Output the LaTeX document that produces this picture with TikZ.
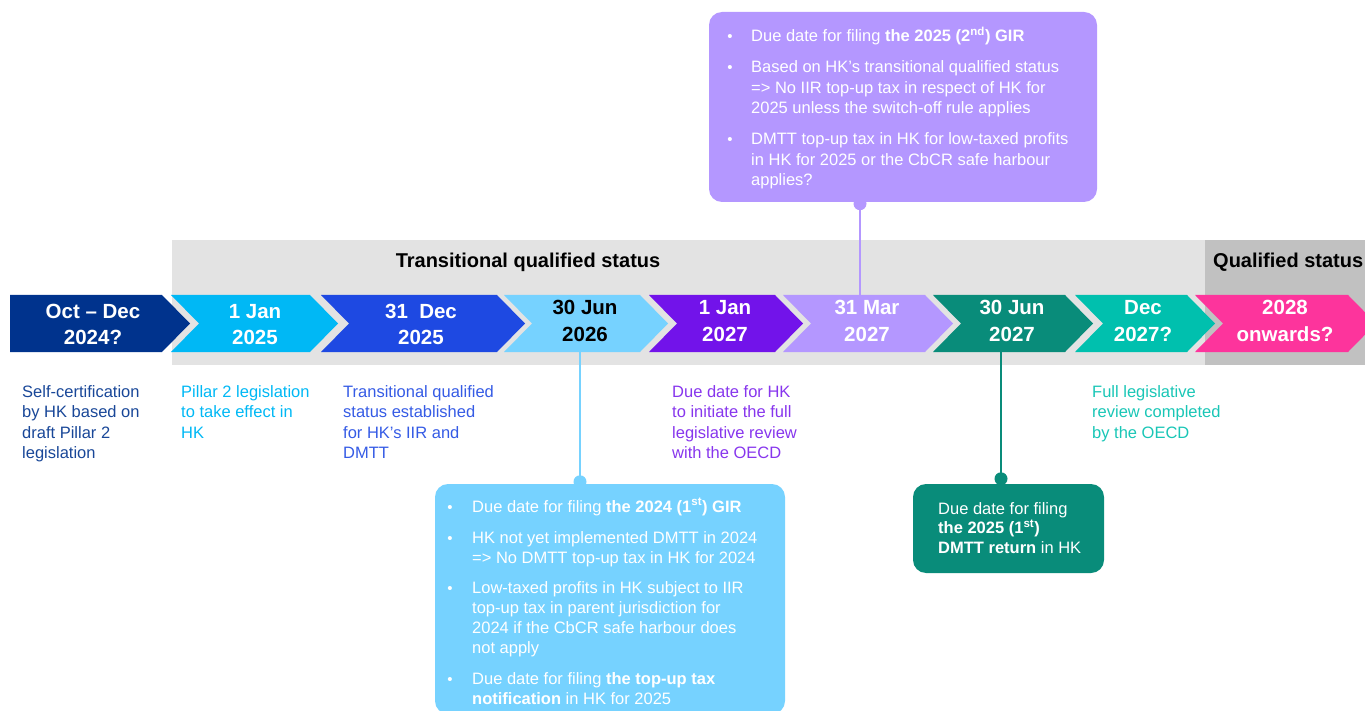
\documentclass[tikz,border=0pt]{standalone}
\usepackage{fontspec}
\setmainfont{Liberation Sans}
\usetikzlibrary{calc}
\definecolor{cNavy}{HTML}{00338D}
\definecolor{cCyan}{HTML}{00B8F5}
\definecolor{cRoyal}{HTML}{1E49E2}
\definecolor{cLight}{HTML}{76D2FF}
\definecolor{cPurple}{HTML}{7213EA}
\definecolor{cLav}{HTML}{B497FF}
\definecolor{cTeal}{HTML}{098C7A}
\definecolor{cAqua}{HTML}{00C0AE}
\definecolor{cPink}{HTML}{FD349C}
\definecolor{bandA}{HTML}{E3E3E3}
\definecolor{bandB}{HTML}{C1C1C1}
\newcommand\mlines[1]{\begin{tabular}[t]{@{}l@{}}#1\end{tabular}}
\newcommand\mcenter[1]{\begin{tabular}[t]{@{}c@{}}#1\end{tabular}}
\newcommand\mysup[1]{\smash{\textsuperscript{#1}}}
\newcommand\chevron[3]{\fill[#3] (#1,295) -- (#2,295) -- (#2+28,323.5) -- (#2,352) -- (#1,352) -- (#1+28,323.5) -- cycle;}
\tikzset{
  clab/.style={anchor=base, inner sep=0pt, font=\fontsize{20.5}{26}\selectfont\bfseries, text=white},
  desc/.style={anchor=base west, inner sep=0pt, font=\fontsize{16.5}{20.5}\selectfont},
  itemtxt/.style={anchor=base west, inner sep=0pt, text=white, font=\fontsize{16.5}{20.3}\selectfont},
  bul/.style={anchor=base, inner sep=0pt, text=white, font=\fontsize{15}{15}\selectfont},
  callbox/.style={rounded corners=13pt, inner sep=0pt, draw=none},
  conn/.style={line width=2pt},
  bandtitle/.style={inner sep=0pt, font=\fontsize{20}{24}\selectfont\bfseries, text=black}
}
\begin{document}
\begin{tikzpicture}[x=1pt,y=-1pt]
\useasboundingbox (0,0) rectangle (1365,711);
\clip (0,0) rectangle (1365,711);
% bands
\fill[bandA] (172,240) rectangle (1205,365);
\fill[bandB] (1205,240) rectangle (1365,365);
\node[bandtitle, anchor=base] (tqs) at (528,268) {Transitional qualified status};
\node[bandtitle, anchor=base west] (qs) at (1213,268) {Qualified status};
% callout boxes
\node[callbox, fill=cLav, minimum width=388pt, minimum height=190pt] (b6) at (903,107) {};
\node[callbox, fill=cLight, minimum width=350pt, minimum height=230pt] (b4) at (610,599) {};
\node[callbox, fill=cTeal, minimum width=191pt, minimum height=89pt] (b7) at (1008.5,528.5) {};
% connectors
\coordinate (k6) at (860,295);
\coordinate (k4) at (580,352);
\coordinate (k7) at (1001,352);
\draw[conn, cLav] (k6) -- (k6 |- b6.south);
\fill[cLav] ($(k6 |- b6.south)+(0,1.5)$) circle (6.5pt);
\draw[conn, cLight] (k4) -- (k4 |- b4.north);
\fill[cLight] ($(k4 |- b4.north)+(0,-2)$) circle (6.5pt);
\draw[conn, cTeal] (k7) -- (k7 |- b7.north);
\fill[cTeal] ($(k7 |- b7.north)+(0,-5)$) circle (6.5pt);
% chevrons
\fill[cNavy] (10,295) -- (162,295) -- (190,323.5) -- (162,352) -- (10,352) -- cycle;
\chevron{171}{310}{cCyan}
\chevron{321}{497}{cRoyal}
\chevron{504}{640}{cLight}
\chevron{649}{775}{cPurple}
\chevron{783}{925}{cLav}
\chevron{933}{1065}{cTeal}
\chevron{1075}{1187}{cAqua}
\chevron{1195}{1348}{cPink}
% chevron labels
\node[clab] (t1) at (93,318) {\mcenter{Oct – Dec\\2024?}};
\node[clab] (t2) at (255,318) {\mcenter{1 Jan\\2025}};
\node[clab] (t3) at (421,318) {\mcenter{31\ \ Dec\\2025}};
\node[clab, text=black] (t4) at (585,315) {\mcenter{30 Jun\\2026}};
\node[clab] (t5) at (725,315) {\mcenter{1 Jan\\2027}};
\node[clab] (t6) at (867,315) {\mcenter{31 Mar\\2027}};
\node[clab] (t7) at (1012,315) {\mcenter{30 Jun\\2027}};
\node[clab] (t8) at (1143,315) {\mcenter{Dec\\2027?}};
\node[clab] (t9) at (1285,315) {\mcenter{2028\\onwards?}};
% descriptions
\node[desc, text=cNavy!90!white] (d1) at (22,397) {\mlines{Self-certification\\by HK based on\\draft Pillar 2\\legislation}};
\node[desc, text=cCyan] (d2) at (181,397) {\mlines{Pillar 2 legislation\\to take effect in\\HK}};
\node[desc, text=cRoyal!90!white] (d3) at (343,397) {\mlines{Transitional qualified\\status established\\for HK’s IIR and\\DMTT}};
\node[desc, text=cPurple!85!white] (d5) at (672,397) {\mlines{Due date for HK\\to initiate the full\\legislative review\\with the OECD}};
\node[desc, text=cAqua!90!white] (d8) at (1092,397) {\mlines{Full legislative\\review completed\\by the OECD}};
% purple callout items
\node[bul] (pb1) at (730,42) {•};
\node[itemtxt] (p1) at (751,42) {Due date for filing \textbf{the 2025 (2\mysup{nd}) GIR}};
\node[bul] (pb2) at (730,73) {•};
\node[itemtxt] (p2) at (751,73) {\mlines{Based on HK’s transitional qualified status\\=> No IIR top-up tax in respect of HK for\\2025 unless the switch-off rule applies}};
\node[bul] (pb3) at (730,145) {•};
\node[itemtxt] (p3) at (751,145) {\mlines{DMTT top-up tax in HK for low-taxed profits\\in HK for 2025 or the CbCR safe harbour\\applies?}};
% blue callout items
\node[bul] (qb1) at (450,512) {•};
\node[itemtxt] (q1) at (472,512) {Due date for filing \textbf{the 2024 (1\mysup{st}) GIR}};
\node[bul] (qb2) at (450,543) {•};
\node[itemtxt] (q2) at (472,543) {\mlines{HK not yet implemented DMTT in 2024\\=> No DMTT top-up tax in HK for 2024}};
\node[bul] (qb3) at (450,593) {•};
\node[itemtxt] (q3) at (472,593) {\mlines{Low-taxed profits in HK subject to IIR\\top-up tax in parent jurisdiction for\\2024 if the CbCR safe harbour does\\not apply}};
\node[bul] (qb4) at (450,684) {•};
\node[itemtxt] (q4) at (472,684) {\mlines{Due date for filing \textbf{the top-up tax}\\\textbf{notification} in HK for 2025}};
% teal callout text
\node[itemtxt, font=\fontsize{16.5}{19.6}\selectfont] (r1) at (938,514) {\mlines{Due date for filing\\\textbf{the 2025 (1\mysup{st})}\\\textbf{DMTT return} in HK}};
\end{tikzpicture}
\end{document}
